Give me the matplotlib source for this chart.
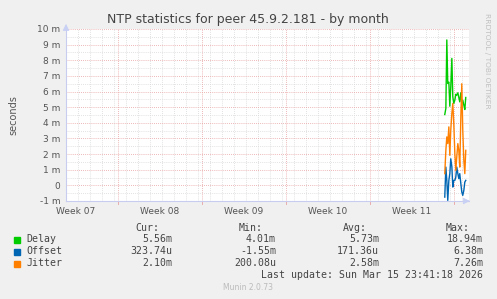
import matplotlib
matplotlib.use("Agg")
import matplotlib.pyplot as plt
from matplotlib.ticker import FuncFormatter

# time in days from left edge of the plot window, values in milliseconds
days = [31.58, 31.67, 31.75, 31.83, 31.92, 32.00, 32.08, 32.17, 32.25, 32.33, 32.42,
        32.50, 32.58, 32.67, 32.75, 32.83, 32.92, 33.00, 33.08, 33.17, 33.25, 33.33]
delay = [4.53, 4.92, 9.3, 6.52, 6.6, 5.06, 6.3, 8.12, 5.66, 5.24, 5.45,
         5.83, 5.77, 5.92, 5.62, 5.34, 5.92, 5.24, 5.45, 5.13, 4.85, 5.62]
offset = [-0.75, 1.17, 0.32, -0.96, 0.32, 0.75, 1.7, 1.2, -0.11, 0.32, 0.32,
          0.53, 1.17, 0.75, 0.43, 0.75, 0.11, -0.43, -0.64, -0.32, 0.21, 0.32]
jitter = [0.75, 2.24, 3.1, 2.67, 3.74, 1.92, 3.53, 4.6, 5.24, 3.96, 2.03,
          0.96, 1.82, 2.67, 2.24, 1.17, 4.38, 6.5, 3.53, 1.6, 0.75, 2.24]

week_labels = ["Week 07", "Week 08", "Week 09", "Week 10", "Week 11"]
first_week_start = 4.33   # day offset of first week boundary
x_span = 33.6

series = ["Delay", "Offset", "Jitter"]
colors = ["#00CC00", "#0066B3", "#FF8000"]
cur = ["5.56m", "323.74u", "2.10m"]
mins = ["4.01m", "-1.55m", "200.08u"]
avgs = ["5.73m", "171.36u", "2.58m"]
maxs = ["18.94m", "6.38m", "7.26m"]

W, H = 497, 299
fig = plt.figure(figsize=(W / 100, H / 100), dpi=100, facecolor="#F0F0F0")
ax = fig.add_axes([66 / W, (H - 201) / H, (469 - 66) / W, (201 - 29) / H])
ax.set_facecolor("white")
ax.set_xlim(0, x_span)
ax.set_ylim(-1, 10)

# grid: daily minor, weekly major; half-unit minor, unit major
d = 0.0
while d <= x_span:
    ax.axvline(d, color="#D8D8D8", lw=0.6, ls=(0, (1, 1.5)), zorder=0)
    d += 1
week_lines = [first_week_start + 7 * k for k in range(5)]
for wx in week_lines:
    ax.axvline(wx, color="#E8A0A0", lw=0.6, ls=(0, (1, 1.5)), zorder=1)
    ax.plot([wx, wx], [-1, -1.18], color="#E8A0A0", lw=0.6, clip_on=False)
for v in range(-1, 11):
    ax.axhline(v, color="#E8A0A0", lw=0.6, ls=(0, (1, 1.5)), zorder=1)
    ax.axhline(v + 0.5, color="#D8D8D8", lw=0.6, ls=(0, (1, 1.5)), zorder=0)

for vals, c in zip([delay, offset, jitter], colors):
    ax.plot(days, vals, color=c, lw=1, zorder=3)

ax.set_xticks([wx - 3.5 for wx in week_lines])
ax.set_xticklabels(week_labels)
ax.set_yticks(range(-1, 11))
ax.yaxis.set_major_formatter(FuncFormatter(lambda v, p: "0" if v == 0 else f"{int(v)} m"))
ax.tick_params(length=0, labelsize=6.5, colors="#555555", pad=4)

for s in ["top", "right"]:
    ax.spines[s].set_visible(False)
for s in ["left", "bottom"]:
    ax.spines[s].set_color("#C8CCEE")
    ax.spines[s].set_linewidth(0.8)
ax.annotate("", xy=(0, 10.5), xytext=(0, 9.9), xycoords="data",
            arrowprops=dict(arrowstyle="-|>", color="#C8D0F4", lw=0.6), annotation_clip=False)
ax.annotate("", xy=(x_span + 0.3, -1), xytext=(x_span - 0.5, -1),
            arrowprops=dict(arrowstyle="-|>", color="#C8D0F4", lw=0.6), annotation_clip=False)

fig.text(248 / W, 1 - 23 / H, "NTP statistics for peer 45.9.2.181 - by month",
         ha="center", va="baseline", fontsize=9, color="#444444")
fig.text(13 / W, 1 - 115 / H, "seconds", rotation=90, ha="center", va="center",
         fontsize=7, color="#555555")
fig.text(487 / W, 1 - 13 / H, "RRDTOOL / TOBI OETIKER", rotation=270, ha="center", va="top",
         fontsize=5.4, color="#C0C0C0")

mono = dict(family="DejaVu Sans Mono", fontsize=7.1, color="#444444", va="center")
cols_hdr = [(159, "Cur:"), (263, "Min:"), (367, "Avg:"), (470, "Max:")]
for x, t in cols_hdr:
    fig.text(x / W, 1 - 228 / H, t, ha="right", **mono)
rows_y = [239.5, 251.5, 263.5]
for i, name in enumerate(series):
    y = 1 - rows_y[i] / H
    fig.patches.append(plt.Rectangle((14 / W, y - 3 / H), 6 / W, 6 / H,
                                     transform=fig.transFigure, color=colors[i]))
    fig.text(26 / W, y, name, ha="left", **mono)
    for x, t in zip([172, 276, 379, 483], [cur[i], mins[i], avgs[i], maxs[i]]):
        fig.text(x / W, y, t, ha="right", **mono)
fig.text(483 / W, 1 - 275.5 / H, "Last update: Sun Mar 15 23:41:18 2026", ha="right", **mono)
fig.text(248 / W, 1 - 288 / H, "Munin 2.0.73", ha="center", va="center",
         fontsize=5.5, color="#BBBBBB")

fig.savefig("out.png", dpi=100, facecolor=fig.get_facecolor())
